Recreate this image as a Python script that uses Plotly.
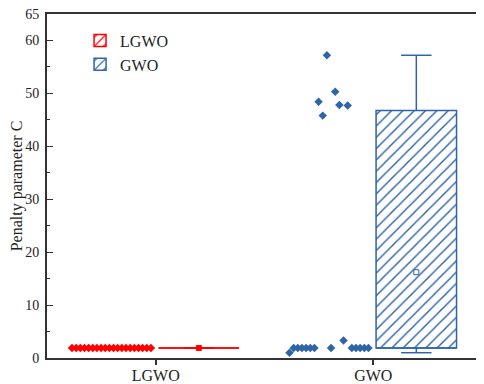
import numpy as np
import plotly.graph_objects as go

# ---- data ----
categories = ["LGWO", "GWO"]
lgwo_values = [1.9] * 20
gwo_values = [1.0, 1.9, 1.9, 1.9, 1.9, 1.9, 1.9, 48.4, 45.8, 57.2,
              1.9, 50.3, 47.8, 3.3, 47.7, 1.9, 1.9, 1.9, 1.9, 1.9]
y_tick_values = [0, 10, 20, 30, 40, 50, 60, 65]
y_tick_labels = ["0", "10", "20", "30", "40", "50", "60", "65"]
y_title = "Penalty parameter C"

colors = {"LGWO": "#FF0000", "GWO": "#2E64A8"}
series = {"LGWO": lgwo_values, "GWO": gwo_values}

FONT = "Liberation Serif, Times New Roman, serif"
box_offset = 0.198
box_width = 0.37
cap_half = 0.07

fig = go.Figure()

for ci, name in enumerate(categories):
    pos = ci + 1
    vals = np.array(series[name])
    col = colors[name]
    q1, med, q3 = np.percentile(vals, [25, 50, 75], method="hazen")
    vmin, vmax, vmean = vals.min(), vals.max(), vals.mean()
    c = pos + box_offset

    # hatched box
    fig.add_trace(go.Bar(
        x=[c], base=[q1], y=[q3 - q1], width=box_width, name=name,
        marker=dict(color="white",
                    pattern=dict(shape="/", fgcolor=col, bgcolor="white",
                                 fgopacity=1, size=8, solidity=0.18),
                    line=dict(color=col, width=1.5)),
        showlegend=True, hoverinfo="skip"))

    # whiskers
    fig.add_trace(go.Scatter(x=[c, c], y=[q3, vmax], mode="lines",
                             line=dict(color=col, width=1.5),
                             showlegend=False, hoverinfo="skip"))
    fig.add_trace(go.Scatter(x=[c, c], y=[q1, vmin], mode="lines",
                             line=dict(color=col, width=1.5),
                             showlegend=False, hoverinfo="skip"))
    for v in (vmin, vmax):
        fig.add_trace(go.Scatter(x=[c - cap_half, c + cap_half], y=[v, v],
                                 mode="lines", line=dict(color=col, width=1.5),
                                 showlegend=False, hoverinfo="skip"))
    # median
    fig.add_trace(go.Scatter(x=[c - box_width / 2, c + box_width / 2],
                             y=[med, med], mode="lines",
                             line=dict(color=col, width=1.5),
                             showlegend=False, hoverinfo="skip"))
    # mean
    fig.add_trace(go.Scatter(x=[c], y=[vmean], mode="markers",
                             marker=dict(symbol="square-open" if name == "GWO" else "square",
                                         size=5, color=col, line=dict(width=1, color=col)),
                             showlegend=False, hoverinfo="skip"))
    # data points spread to the left of the category tick
    offsets = np.linspace(-0.385, -0.022, len(vals))
    fig.add_trace(go.Scatter(x=pos + offsets, y=vals, mode="markers",
                             marker=dict(symbol="diamond", size=6.5, color=col),
                             showlegend=False, hoverinfo="skip"))

# the page body adds an 8px offset, so the figure is sized 476x376
fig.update_layout(
    width=476, height=376,
    margin=dict(l=39, r=2, t=6, b=26),
    plot_bgcolor="white", paper_bgcolor="white",
    barmode="overlay",
    font=dict(family=FONT, size=14, color="#222"),
    legend=dict(x=0.076, y=0.972, xanchor="left", yanchor="top",
                bgcolor="rgba(0,0,0,0)", font=dict(family=FONT, size=16),
                tracegroupgap=0, itemwidth=30),
    xaxis=dict(range=[0.5, 2.5], tickmode="array", tickvals=[1, 2],
               ticktext=categories, ticks="outside", ticklen=5, tickwidth=1.5,
               tickcolor="#333", showline=True, linecolor="#333", linewidth=2,
               mirror=True, showgrid=False, zeroline=False, automargin=False,
               ticklabelstandoff=-3,
               tickfont=dict(family=FONT, size=16)),
    yaxis=dict(range=[0, 65], tickmode="array", tickvals=y_tick_values,
               ticktext=y_tick_labels, ticks="inside", ticklen=6, tickwidth=1,
               tickcolor="#333", showline=True, linecolor="#333", linewidth=2,
               mirror=True, showgrid=False, zeroline=False, automargin=False,
               ticklabelstandoff=3, ticklabeloverflow="allow",
               minor=dict(dtick=5, tick0=0, ticks="inside", ticklen=3,
                          tickcolor="#333"),
               title=dict(text=y_title, font=dict(family=FONT, size=16),
                          standoff=1),
               tickfont=dict(family=FONT, size=14)),
)

fig.write_html("out.html")
